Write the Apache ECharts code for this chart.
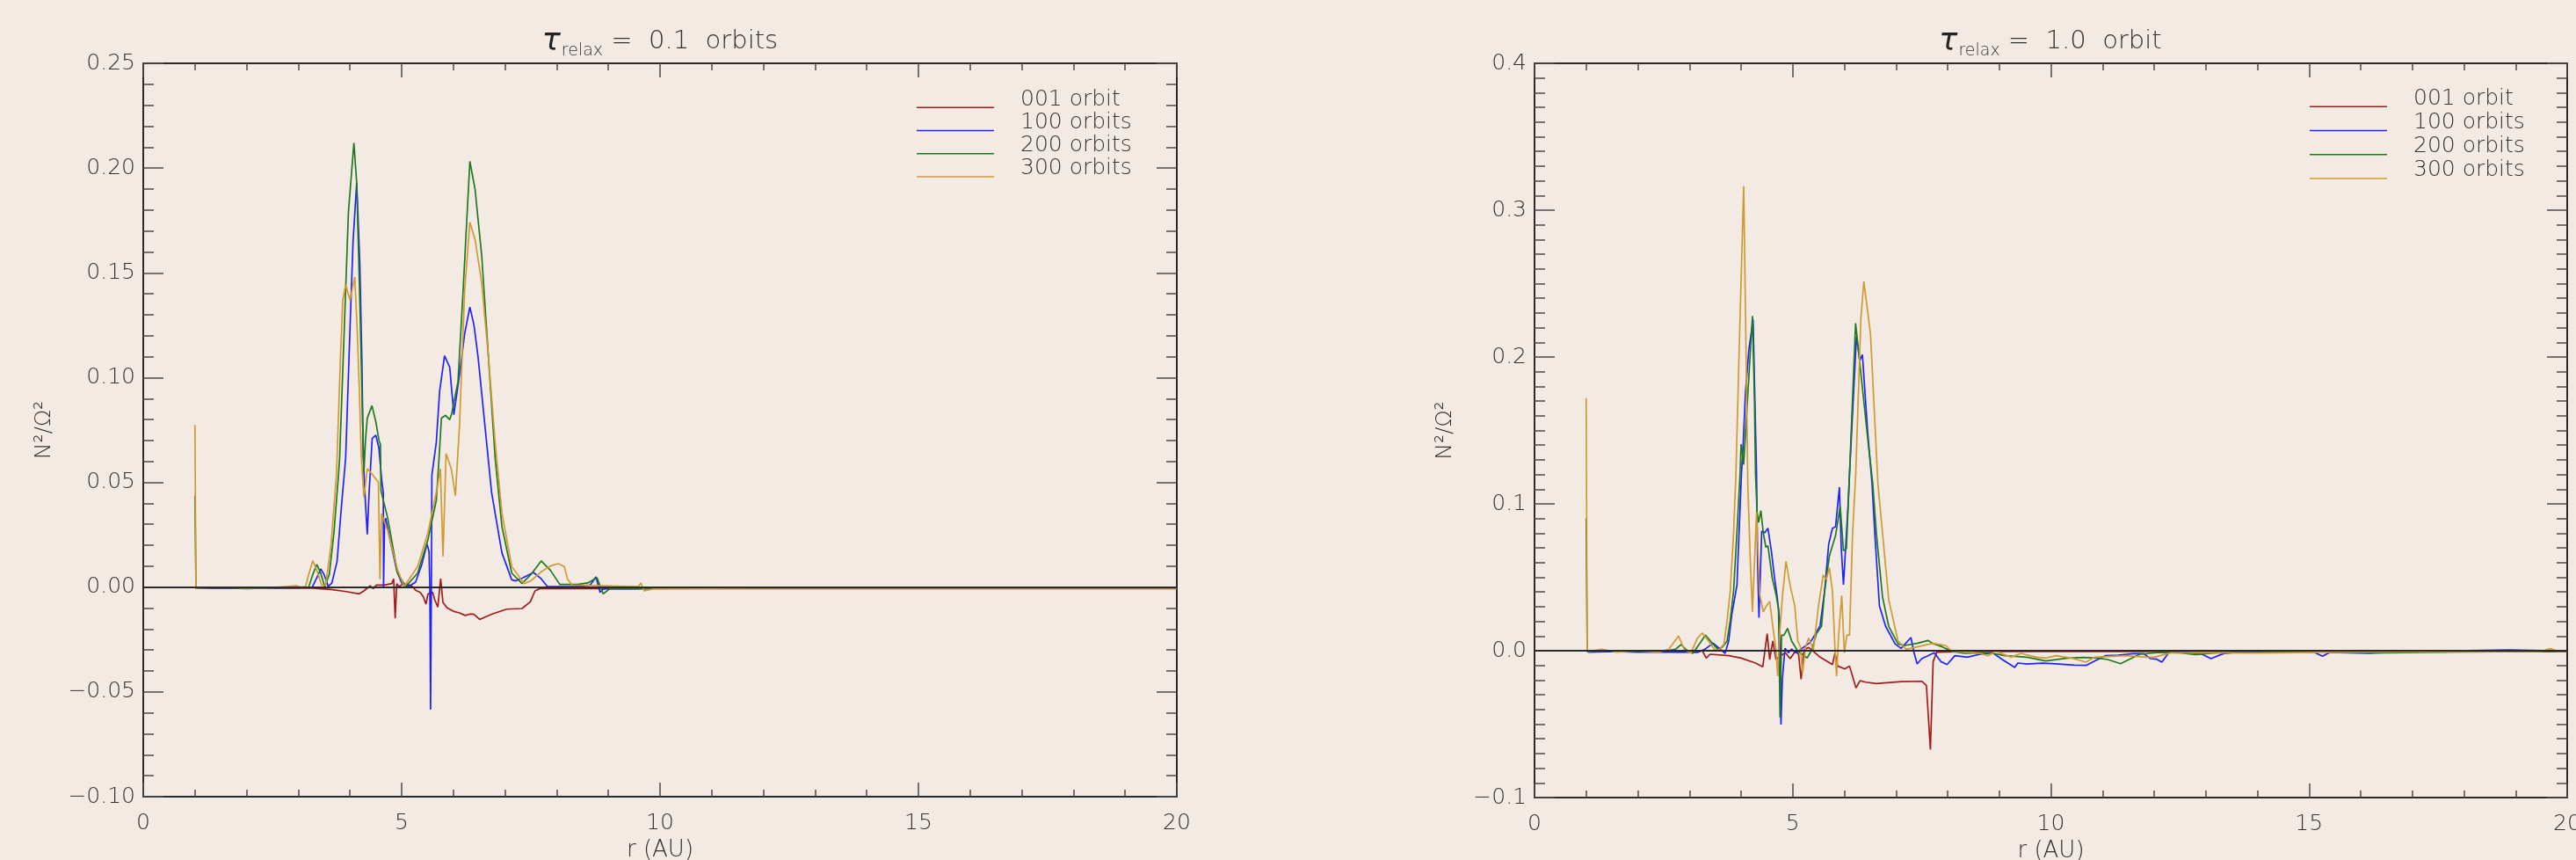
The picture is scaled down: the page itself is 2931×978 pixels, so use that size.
<!DOCTYPE html>
<html><head><meta charset="utf-8">
<script src="https://cdn.jsdelivr.net/npm/echarts@6/dist/echarts.min.js"></script>
<style>html,body{margin:0;padding:0;background:#f4eae4;}#c{width:2931px;height:978px;}</style>
</head><body><div id="c"></div>
<script>
// ---------- categories / labels ----------
const seriesNames = ['001 orbit', '100 orbits', '200 orbits', '300 orbits'];
const xTickLabels = ['0', '5', '10', '15', '20'];
const yTickLabelsLeft = ['\u22120.10', '\u22120.05', '0.00', '0.05', '0.10', '0.15', '0.20', '0.25'];
const yTickLabelsRight = ['\u22120.1', '0.0', '0.1', '0.2', '0.3', '0.4'];
const titleLeftValue = '0.1  orbits';
const titleRightValue = '1.0  orbit';

// ---------- left panel (tau_relax = 0.1 orbits): [r, N^2/Omega^2] ----------
const left001 = [[1.0,0.0],[1.05,-0.0005],[2.0,-0.0005],[2.84,-0.0004],[3.27,-0.0005],[3.63,-0.0011],[3.9,-0.002],[4.18,-0.0032],[4.27,-0.0018],[4.39,0.0007],[4.45,-0.0007],[4.51,0.001],[4.66,0.001],[4.81,0.0017],[4.845,0.004],[4.875,-0.0149],[4.905,0.0017],[4.95,0.0003],[5.03,0.0015],[5.12,0.0013],[5.21,0.0003],[5.27,-0.0015],[5.36,-0.0025],[5.42,-0.0046],[5.47,-0.0081],[5.51,-0.0032],[5.60,-0.0025],[5.64,-0.006],[5.70,-0.0095],[5.755,0.004],[5.80,-0.0074],[5.88,-0.0099],[6.0,-0.0115],[6.12,-0.0123],[6.23,-0.0135],[6.33,-0.0128],[6.4,-0.013],[6.51,-0.0154],[6.73,-0.013],[7.03,-0.0105],[7.33,-0.0102],[7.49,-0.007],[7.58,-0.0018],[7.67,-0.0007],[10,-0.0007],[20,-0.0007]];
const left100 = [[1.0,0.0],[1.05,-0.0006],[1.5,-0.0003],[2.0,-0.0007],[2.5,-0.0004],[3.0,-0.0003],[3.27,0.0],[3.35,0.004],[3.435,0.0087],[3.5,0.006],[3.58,0.0003],[3.65,0.002],[3.75,0.0122],[3.84,0.040],[3.917,0.0618],[4.0,0.123],[4.06,0.165],[4.13,0.193],[4.19,0.155],[4.23,0.109],[4.257,0.062],[4.27,0.055],[4.30,0.04],[4.335,0.0252],[4.37,0.045],[4.43,0.071],[4.50,0.0725],[4.56,0.0665],[4.61,0.052],[4.645,0.045],[4.65,0.0],[4.66,0.0],[4.67,0.031],[4.69,0.033],[4.78,0.022],[4.905,0.008],[5.0,0.002],[5.09,0.0003],[5.18,0.001],[5.27,0.0024],[5.39,0.0108],[5.49,0.0206],[5.53,0.017],[5.545,0.0],[5.56,-0.0585],[5.575,0.0],[5.585,0.0534],[5.67,0.069],[5.735,0.0935],[5.83,0.1104],[5.93,0.105],[6.01,0.0823],[6.12,0.1015],[6.22,0.121],[6.32,0.1337],[6.40,0.125],[6.48,0.1096],[6.61,0.0774],[6.74,0.0453],[6.94,0.0164],[7.13,0.0035],[7.21,0.003],[7.35,0.0045],[7.55,0.007],[7.7,0.004],[7.82,0.0003],[8.3,0.0003],[8.65,0.001],[8.76,0.0049],[8.84,-0.0025],[8.91,-0.0007],[9.5,-0.0008],[10.0,-0.0005],[12,-0.0004],[20,-0.0004]];
const left200 = [[1.0,0.0437],[1.02,-0.0005],[1.5,-0.0002],[2.0,-0.0006],[2.5,-0.0003],[3.0,-0.0002],[3.2,0.0],[3.28,0.006],[3.357,0.0108],[3.43,0.007],[3.51,0.0003],[3.6,0.006],[3.69,0.026],[3.78,0.054],[3.80,0.0618],[3.89,0.1234],[3.97,0.179],[4.076,0.212],[4.13,0.193],[4.19,0.137],[4.23,0.095],[4.27,0.055],[4.30,0.07],[4.335,0.0807],[4.425,0.0866],[4.50,0.079],[4.56,0.0702],[4.59,0.068],[4.60,0.046],[4.62,0.046],[4.73,0.033],[4.92,0.0067],[5.08,0.0003],[5.31,0.0067],[5.51,0.0228],[5.67,0.0413],[5.72,0.06],[5.77,0.0807],[5.85,0.082],[5.93,0.0799],[5.97,0.083],[6.09,0.098],[6.19,0.1418],[6.32,0.2032],[6.42,0.19],[6.55,0.158],[6.68,0.1096],[6.81,0.0613],[6.94,0.029],[7.13,0.0067],[7.33,0.0017],[7.5,0.006],[7.70,0.0125],[7.88,0.008],[8.06,0.0013],[8.4,0.0013],[8.6,0.002],[8.78,0.0045],[8.90,-0.0032],[9.03,-0.0007],[12,-0.0005],[20,-0.0005]];
const left300 = [[1.0,0.0774],[1.02,-0.0005],[1.5,-0.0001],[2.0,-0.0004],[2.5,-0.0003],[2.96,0.0007],[3.05,0.0],[3.14,0.0003],[3.2,0.006],[3.28,0.0126],[3.36,0.008],[3.45,0.001],[3.53,0.001],[3.63,0.0192],[3.74,0.054],[3.815,0.109],[3.86,0.137],[3.917,0.1444],[4.0,0.137],[4.093,0.148],[4.14,0.123],[4.18,0.095],[4.22,0.062],[4.27,0.0429],[4.335,0.0565],[4.46,0.053],[4.55,0.050],[4.58,0.0037],[4.61,0.035],[4.73,0.027],[4.92,0.0083],[5.05,0.0003],[5.31,0.0099],[5.51,0.026],[5.67,0.0453],[5.75,0.0565],[5.80,0.0147],[5.86,0.0638],[5.96,0.0565],[6.04,0.0437],[6.12,0.0774],[6.22,0.1418],[6.32,0.1742],[6.42,0.166],[6.55,0.145],[6.68,0.1096],[6.81,0.069],[6.94,0.0355],[7.13,0.0099],[7.37,0.0017],[7.5,0.003],[7.70,0.0073],[7.88,0.0101],[8.03,0.0112],[8.15,0.0097],[8.21,0.0038],[8.30,0.001],[9.58,0.0003],[9.63,0.002],[9.69,-0.0018],[9.9,-0.0007],[12,-0.0005],[20,-0.0005]];

// ---------- right panel (tau_relax = 1.0 orbit): [r, N^2/Omega^2] ----------
const right001 = [[1.0,0.0],[1.05,-0.0004],[2.0,-0.0004],[3.156,-0.001],[3.25,0.0],[3.326,-0.005],[3.40,-0.0024],[3.764,-0.0034],[4.0,-0.005],[4.28,-0.0084],[4.42,-0.011],[4.506,0.0116],[4.555,-0.006],[4.615,0.0066],[4.676,-0.006],[4.767,-0.0034],[4.858,-0.0014],[4.95,-0.0054],[5.05,-0.0004],[5.114,-0.0024],[5.162,-0.0194],[5.22,0.0006],[5.31,0.0022],[5.40,-0.0004],[5.53,-0.0044],[5.77,-0.0094],[5.82,-0.0014],[5.87,-0.0104],[6.01,-0.0124],[6.10,-0.0104],[6.226,-0.0253],[6.305,-0.0204],[6.41,-0.0214],[6.62,-0.0224],[7.108,-0.021],[7.50,-0.0208],[7.59,-0.0237],[7.667,-0.0673],[7.72,-0.0074],[7.79,-0.001],[8.5,-0.0006],[20,-0.0006]];
const right100 = [[1.0,0.0],[1.05,-0.001],[1.5,-0.0005],[2.0,-0.001],[2.5,-0.0008],[2.853,-0.001],[3.156,-0.001],[3.3,0.001],[3.46,0.0052],[3.58,0.0016],[3.69,-0.0018],[3.76,0.0066],[3.82,0.0245],[3.92,0.0445],[4.007,0.12],[4.04,0.14],[4.085,0.1757],[4.153,0.2056],[4.233,0.2255],[4.30,0.12],[4.32,0.06],[4.347,0.0225],[4.40,0.0814],[4.46,0.0804],[4.52,0.0834],[4.585,0.0685],[4.645,0.0505],[4.70,0.0365],[4.749,0.0206],[4.773,-0.0503],[4.80,-0.0194],[4.85,0.0016],[4.92,-0.0014],[4.98,0.0012],[5.05,-0.0014],[5.13,0.0],[5.22,0.0026],[5.34,0.0056],[5.46,0.0126],[5.53,0.017],[5.56,0.016],[5.618,0.0405],[5.697,0.0725],[5.77,0.0834],[5.83,0.0844],[5.905,0.1114],[5.94,0.0705],[5.983,0.0449],[6.026,0.0705],[6.074,0.1004],[6.10,0.12],[6.235,0.2142],[6.30,0.1976],[6.35,0.2016],[6.45,0.15],[6.536,0.114],[6.59,0.08],[6.68,0.0305],[6.80,0.0166],[6.985,0.0046],[7.10,0.0016],[7.29,0.009],[7.35,-0.0014],[7.41,-0.009],[7.50,-0.0054],[7.62,-0.0034],[7.74,-0.0014],[7.87,-0.0074],[7.99,-0.0094],[8.14,-0.0034],[8.38,-0.0044],[8.63,-0.0024],[8.87,-0.0014],[9.08,-0.0064],[9.30,-0.0114],[9.36,-0.0084],[9.54,-0.009],[9.84,-0.0084],[10.15,-0.009],[10.45,-0.0098],[10.68,-0.010],[10.94,-0.0054],[11.05,-0.0034],[11.3,-0.003],[11.59,-0.002],[11.8,-0.002],[11.93,-0.0054],[12.05,-0.0058],[12.15,-0.0078],[12.29,-0.001],[12.6,-0.001],[12.93,-0.0024],[13.10,-0.0054],[13.34,-0.002],[13.6,-0.001],[15.1,-0.001],[15.26,-0.0038],[15.4,-0.0012],[16.17,-0.0018],[17,-0.0005],[18.87,0.0006],[20,-0.0002]];
const right200 = [[1.0,0.09],[1.02,-0.0005],[1.5,0.0],[2.0,-0.0005],[2.5,-0.0003],[2.73,0.001],[2.84,0.0042],[2.94,0.0006],[3.065,-0.0018],[3.2,0.005],[3.31,0.0106],[3.43,0.0056],[3.55,0.001],[3.64,0.0026],[3.73,0.0066],[3.79,0.0206],[3.855,0.0405],[3.92,0.0804],[3.98,0.12],[4.0,0.1407],[4.05,0.1267],[4.221,0.228],[4.26,0.17],[4.28,0.12],[4.311,0.0944],[4.34,0.0874],[4.384,0.0954],[4.43,0.0804],[4.48,0.0705],[4.52,0.0715],[4.604,0.0495],[4.676,0.0385],[4.725,0.0285],[4.755,-0.0453],[4.785,0.0106],[4.83,0.0106],[4.90,0.0152],[4.98,0.0066],[5.10,-0.0004],[5.19,-0.0024],[5.28,-0.005],[5.37,0.0006],[5.46,0.0116],[5.558,0.0166],[5.618,0.0405],[5.71,0.0645],[5.83,0.0784],[5.92,0.0984],[5.983,0.068],[6.04,0.0695],[6.10,0.12],[6.218,0.223],[6.48,0.1357],[6.55,0.114],[6.62,0.08],[6.74,0.0365],[6.86,0.0166],[7.04,0.0046],[7.17,0.0036],[7.41,0.005],[7.62,0.007],[7.71,0.005],[7.90,0.0026],[8.08,-0.0004],[8.32,-0.0018],[8.63,-0.0014],[8.87,-0.0018],[9.11,-0.0034],[9.54,-0.0044],[9.90,-0.007],[10.33,-0.005],[10.63,-0.0046],[10.9,-0.005],[11.1,-0.006],[11.35,-0.0088],[11.72,-0.0024],[12.1,-0.0012],[12.5,-0.0014],[12.8,-0.0026],[13.2,-0.0014],[14,-0.0012],[15,-0.0005],[16.5,-0.0014],[18,-0.0008],[20,-0.0004]];
const right300 = [[1.0,0.172],[1.02,-0.0005],[1.3,0.001],[1.6,-0.001],[2.0,0.0],[2.4,-0.001],[2.6,0.001],[2.79,0.01],[2.91,0.0],[3.03,-0.0014],[3.156,0.0086],[3.25,0.012],[3.37,0.0066],[3.49,0.0006],[3.58,0.0006],[3.67,0.0046],[3.73,0.0206],[3.79,0.0405],[3.855,0.08],[3.90,0.12],[3.96,0.2],[4.051,0.3164],[4.09,0.22],[4.13,0.114],[4.18,0.06],[4.22,0.0265],[4.30,0.0944],[4.36,0.0385],[4.43,0.0265],[4.49,0.0305],[4.555,0.0335],[4.615,0.0166],[4.676,0.0006],[4.71,-0.0174],[4.75,0.0126],[4.80,0.0365],[4.87,0.0609],[4.95,0.0445],[5.04,0.0305],[5.10,0.0066],[5.15,0.0026],[5.19,-0.0154],[5.25,0.0026],[5.31,0.0086],[5.40,0.0006],[5.50,0.0305],[5.59,0.0515],[5.65,0.0485],[5.71,0.0565],[5.77,0.0405],[5.82,0.0006],[5.85,-0.0174],[5.89,0.0106],[5.95,0.0375],[6.00,-0.0014],[6.05,0.0106],[6.10,0.0106],[6.16,0.08],[6.22,0.12],[6.32,0.2257],[6.378,0.2515],[6.507,0.2156],[6.65,0.114],[6.74,0.08],[6.86,0.0345],[7.04,0.0066],[7.20,0.001],[7.41,0.0026],[7.71,0.005],[7.96,0.0036],[8.08,-0.0004],[8.4,-0.001],[8.63,-0.0018],[8.78,-0.0034],[8.93,-0.0004],[9.23,-0.0044],[9.42,-0.0018],[9.72,-0.0044],[9.90,-0.005],[10.1,-0.0034],[10.4,-0.005],[10.68,-0.0078],[10.85,-0.0044],[11.45,-0.0034],[11.86,-0.0044],[12.0,-0.0044],[12.33,-0.0014],[13,-0.0014],[14,-0.0016],[16,-0.0008],[19.5,-0.0004],[19.67,0.0014],[19.8,-0.0002],[20,-0.0003]];

// ---------- styling ----------
const colors = ['#a31c1c', '#1f22ff', '#1e7a1e', '#cf9a32'];
const FONT = 'DejaVu Sans';
const TXT = '#333333';
const AX = '#2a2a2a';
const TK = '#4a4a4a';
// legend icon: thin line at the bottom of the icon box (tiny invisible mark keeps the box height)
const LEGEND_ICON = 'path://M0,0 L0.01,0 L0.01,0.01 Z M0,18.3 L88,18.3 L88,19.8 L0,19.8 Z';

function xAxisDef(grid, top) {
  return {
    type: 'value', gridIndex: grid, position: top ? 'top' : 'bottom',
    min: 0, max: 20, interval: 5,
    name: top ? '' : 'r (AU)', nameLocation: 'middle', nameGap: 45,
    nameTextStyle: { fontFamily: FONT, fontSize: 26, color: TXT, fontWeight: 200 },
    axisLine: { show: true, onZero: false, lineStyle: { color: AX, width: 2 } },
    axisTick: { show: true, inside: true, length: 16, lineStyle: { color: TK, width: 1.5 } },
    minorTick: { show: true, splitNumber: 5, length: 8, lineStyle: { color: TK, width: 1.5 } },
    axisLabel: { show: !top, margin: 18, fontFamily: FONT, fontSize: 25, color: TXT, fontWeight: 200,
      formatter: v => xTickLabels[Math.round(v / 5)] },
    splitLine: { show: false }, minorSplitLine: { show: false }
  };
}
function yAxisDef(grid, right, min, max, interval, minorSplit, labels, nameGap) {
  return {
    type: 'value', gridIndex: grid, position: right ? 'right' : 'left',
    min: min, max: max, interval: interval,
    name: right ? '' : 'N\u00b2/\u03a9\u00b2', nameLocation: 'middle', nameGap: nameGap,
    nameTextStyle: { fontFamily: FONT, fontSize: 25, color: TXT, fontWeight: 200 },
    axisLine: { show: true, onZero: false, lineStyle: { color: AX, width: 2 } },
    axisTick: { show: true, inside: true, length: 23, lineStyle: { color: TK, width: 1.5 } },
    minorTick: { show: true, splitNumber: minorSplit, length: 12, lineStyle: { color: TK, width: 1.5 } },
    axisLabel: { show: !right, margin: 9, fontFamily: FONT, fontSize: 25, color: TXT, fontWeight: 200,
      formatter: v => labels[Math.round((v - min) / interval)] },
    splitLine: { show: false }, minorSplitLine: { show: false }
  };
}
function lineSeries(name, color, data, xi, yi, zero) {
  const s = {
    name: name, type: 'line', xAxisIndex: xi, yAxisIndex: yi, data: data,
    showSymbol: false, symbol: 'none', animation: false, clip: true,
    lineStyle: { color: color, width: 1.7 }, itemStyle: { color: color },
    emphasis: { disabled: true }
  };
  if (zero) {
    s.markLine = { silent: true, symbol: ['none', 'none'], label: { show: false },
      lineStyle: { color: AX, width: 2, type: 'solid' }, emphasis: { disabled: true },
      data: [{ yAxis: 0 }], animation: false };
  }
  return s;
}
function titleDef(cx, value) {
  return {
    left: cx, top: 27, textAlign: 'center', padding: 0,
    text: '{t|\u03c4}{s|relax}{n| =  ' + value + '}',
    textStyle: { rich: {
      t: { fontFamily: FONT, fontStyle: 'italic', fontSize: 35, color: '#222', fontWeight: 200 },
      s: { fontFamily: FONT, fontSize: 19, color: TXT, padding: [22, 0, 0, 1], fontWeight: 200 },
      n: { fontFamily: FONT, fontSize: 29, color: TXT, fontWeight: 200 }
    } }
  };
}
function legendDef(left, top, gap) {
  return {
    left: left, top: top, orient: 'vertical', padding: 0,
    icon: LEGEND_ICON,
    itemWidth: 88, itemHeight: 20, itemGap: gap, selectedMode: false,
    data: seriesNames,
    textStyle: { fontFamily: FONT, fontSize: 25, lineHeight: 24, color: TXT, fontWeight: 200,
      padding: [0, 0, 0, 25] }
  };
}

const chart = echarts.init(document.getElementById('c'), null, { renderer: 'canvas' });
chart.setOption({
  backgroundColor: '#f4eae4',
  animation: false,
  title: [titleDef(751, titleLeftValue), titleDef(2333, titleRightValue)],
  legend: [legendDef(1043, 100.5, 1.3), legendDef(2628, 99.5, 2.3)],
  grid: [
    { left: 163, top: 72, width: 1176, height: 834, outerBoundsMode: 'none', containLabel: false },
    { left: 1746, top: 72, width: 1175, height: 835, outerBoundsMode: 'none', containLabel: false }
  ],
  xAxis: [xAxisDef(0, false), xAxisDef(0, true), xAxisDef(1, false), xAxisDef(1, true)],
  yAxis: [
    yAxisDef(0, false, -0.10, 0.25, 0.05, 5, yTickLabelsLeft, 100),
    yAxisDef(0, true, -0.10, 0.25, 0.05, 5, yTickLabelsLeft, 100),
    yAxisDef(1, false, -0.1, 0.4, 0.1, 10, yTickLabelsRight, 89),
    yAxisDef(1, true, -0.1, 0.4, 0.1, 10, yTickLabelsRight, 89)
  ],
  series: [
    lineSeries(seriesNames[0], colors[0], left001, 0, 0, false),
    lineSeries(seriesNames[1], colors[1], left100, 0, 0, false),
    lineSeries(seriesNames[2], colors[2], left200, 0, 0, false),
    lineSeries(seriesNames[3], colors[3], left300, 0, 0, true),
    lineSeries(seriesNames[0], colors[0], right001, 2, 2, false),
    lineSeries(seriesNames[1], colors[1], right100, 2, 2, false),
    lineSeries(seriesNames[2], colors[2], right200, 2, 2, false),
    lineSeries(seriesNames[3], colors[3], right300, 2, 2, true)
  ]
});
</script>
</body></html>
